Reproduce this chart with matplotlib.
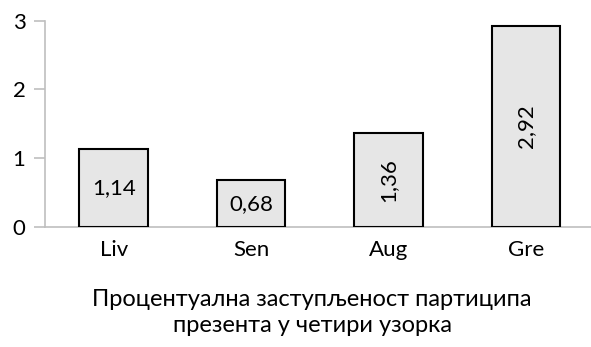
import matplotlib
matplotlib.use("Agg")
import matplotlib.pyplot as plt

# ── Data ─────────────────────────────────────────────────────────────────────
categories = ["Liv", "Sen", "Aug", "Gre"]
values = [1.14, 0.68, 1.36, 2.92]
value_labels = ["1,14", "0,68", "1,36", "2,92"]
label_rotation = [0, 0, 90, 90]
y_ticks = [0, 1, 2, 3]
title = "Процентуална заступљеност партиципа\nпрезента у четири узорка"

plt.rcParams["font.family"] = ["Lato", "DejaVu Sans"]

fig = plt.figure(figsize=(5.91, 3.47), dpi=100)
ax = fig.add_axes([0.0761, 0.3458, 0.93, 0.5945])

x = range(len(categories))
bars = ax.bar(x, values, width=0.5, color="#e6e6e6", edgecolor="black",
              linewidth=1.5, zorder=3)

for b, lab, rot in zip(bars, value_labels, label_rotation):
    ax.text(b.get_x() + b.get_width() / 2, b.get_height() / 2, lab,
            ha="center", va="center", rotation=rot, fontsize=16, zorder=4)

ax.set_xlim(-0.5, 3.5)
ax.set_ylim(0, 3)
ax.set_yticks(y_ticks)
ax.set_yticklabels([str(t) for t in y_ticks], fontsize=16)
ax.set_xticks(list(x))
ax.set_xticklabels(categories, fontsize=16)

for s in ["top", "right"]:
    ax.spines[s].set_visible(False)
for s in ["left", "bottom"]:
    ax.spines[s].set_color("#bfbfbf")
    ax.spines[s].set_linewidth(1.2)
ax.tick_params(axis="y", color="#bfbfbf", length=8, width=1.2, pad=6)
ax.tick_params(axis="x", length=0, pad=9)

fig.text(0.528, 0.099, title, ha="center", va="center", fontsize=17,
         linespacing=1.3)

fig.savefig("out.png", dpi=100)
